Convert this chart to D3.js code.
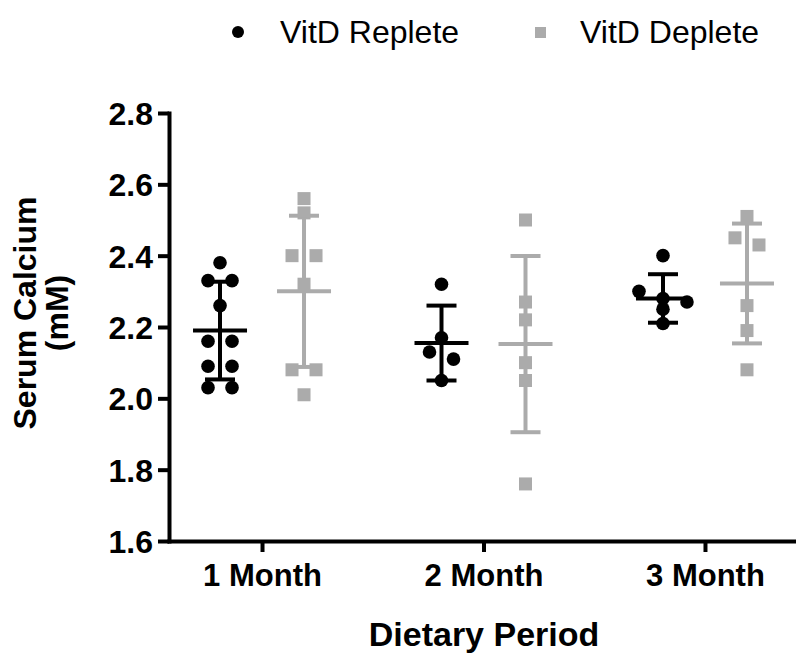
<!DOCTYPE html>
<html>
<head>
<meta charset="utf-8">
<script src="https://cdn.jsdelivr.net/npm/d3@7"></script>
<style>
  body { margin: 0; background: #fff; }
  text { font-family: "Liberation Sans", Arial, sans-serif; }
</style>
</head>
<body>
<svg id="chart" width="796" height="658"></svg>
<script>
// values
var periods = ["1 Month", "2 Month", "3 Month"];
var groups = ["VitD Replete", "VitD Deplete"];
var yTicks = [1.6, 1.8, 2.0, 2.2, 2.4, 2.6, 2.8];

var replete = [
    [2.38, 2.33, 2.33, 2.26, 2.16, 2.16, 2.09, 2.09, 2.03, 2.03],
    [2.32, 2.13, 2.17, 2.11, 2.05],
    [2.40, 2.30, 2.28, 2.27, 2.25, 2.21]
];
var deplete = [
    [2.56, 2.52, 2.40, 2.40, 2.32, 2.08, 2.08, 2.01],
    [2.50, 2.27, 2.22, 2.10, 2.05, 1.76],
    [2.51, 2.45, 2.43, 2.26, 2.19, 2.08]
];
var repleteMean = [2.19, 2.155, 2.28];
var repleteSD = [0.137, 0.105, 0.068];
var depleteMean = [2.30, 2.152, 2.322];
var depleteSD = [0.212, 0.247, 0.168];

var colors = {"VitD Replete": "#000", "VitD Deplete": "#ababab"};

var svg = d3.select("#chart");

var x = d3.scalePoint()
    .domain(periods)
    .range([169, 798])
    .padding(0.42);

var xInner = d3.scalePoint()
    .domain(groups)
    .range([-42, 42]);

var y = d3.scaleLinear()
    .domain([1.6, 2.8])
    .range([541, 113]);

// axes
var yAxis = svg.append("g")
    .attr("transform", "translate(169,0)")
    .call(d3.axisLeft(y).tickValues(yTicks).tickFormat(d3.format(".1f")).tickSize(11).tickSizeOuter(0).tickPadding(5));

var xAxis = svg.append("g")
    .attr("transform", "translate(0,541)")
    .call(d3.axisBottom(x).tickSize(11).tickSizeOuter(0).tickPadding(12));

[yAxis, xAxis].forEach(function(a) {
    a.select(".domain").attr("stroke", "#000").attr("stroke-width", 4).attr("stroke-linecap", "square");
    a.selectAll(".tick line").attr("stroke", "#000").attr("stroke-width", 4);
    a.selectAll(".tick text")
        .attr("fill", "#000")
        .style("font-weight", "bold")
        .style("font-family", "'Liberation Sans', Arial, sans-serif");
});
yAxis.selectAll(".tick text").style("font-size", "32px").attr("dy", "0.36em");
xAxis.selectAll(".tick text").style("font-size", "31px");

// axis titles
svg.append("text")
    .attr("x", 484).attr("y", 646)
    .attr("text-anchor", "middle")
    .style("font-size", "34px").style("font-weight", "bold")
    .text("Dietary Period");

var yTitle = svg.append("text")
    .attr("transform", "translate(36,313) rotate(-90)")
    .attr("text-anchor", "middle")
    .style("font-size", "32px").style("font-weight", "bold");
yTitle.append("tspan").attr("x", 0).attr("dy", 0).text("Serum Calcium");
yTitle.append("tspan").attr("x", 0).attr("dy", 32).text("(mM)");

// spread points that sit on the same row, like a scatter dot plot
function spread(values, rowH, step) {
    var idx = d3.range(values.length).sort(function(a, b) { return values[b] - values[a]; });
    var rows = [], cur = null;
    idx.forEach(function(i) {
        if (!cur || y(values[i]) - y(values[cur[0]]) > rowH) {
            cur = [i];
            rows.push(cur);
        } else {
            cur.push(i);
        }
    });
    var off = [];
    rows.forEach(function(r) {
        r.sort(function(a, b) { return a - b; });
        r.forEach(function(i, k) { off[i] = (k - (r.length - 1) / 2) * step; });
    });
    return off;
}

var series = [
    {name: "VitD Replete", values: replete, mean: repleteMean, sd: repleteSD},
    {name: "VitD Deplete", values: deplete, mean: depleteMean, sd: depleteSD}
];

series.forEach(function(s) {
    var col = colors[s.name];
    periods.forEach(function(p, pi) {
        var cx = x(p) + xInner(s.name);
        var vals = s.values[pi];
        var off = spread(vals, 13, 24);
        var g = svg.append("g");

        var pts = vals.map(function(v, i) { return {v: v, dx: off[i]}; });
        if (s.name === "VitD Replete") {
            g.selectAll("circle").data(pts).enter().append("circle")
                .attr("cx", function(d) { return cx + d.dx; })
                .attr("cy", function(d) { return y(d.v); })
                .attr("r", 6.8)
                .attr("fill", col);
        } else {
            g.selectAll("rect").data(pts).enter().append("rect")
                .attr("x", function(d) { return cx + d.dx - 6.5; })
                .attr("y", function(d) { return y(d.v) - 6.5; })
                .attr("width", 13).attr("height", 13)
                .attr("fill", col);
        }

        // mean +/- SD
        var m = s.mean[pi], sd = s.sd[pi];
        var eb = svg.append("g").attr("stroke", col).attr("stroke-width", 4);
        eb.append("line")
            .attr("x1", cx).attr("x2", cx)
            .attr("y1", y(m + sd)).attr("y2", y(m - sd));
        [m + sd, m - sd].forEach(function(v) {
            eb.append("line")
                .attr("x1", cx - 15).attr("x2", cx + 15)
                .attr("y1", y(v)).attr("y2", y(v));
        });
        eb.append("line")
            .attr("x1", cx - 27).attr("x2", cx + 27)
            .attr("y1", y(m)).attr("y2", y(m));
    });
});

// legend
var legend = svg.append("g");
legend.append("circle").attr("cx", 238).attr("cy", 32).attr("r", 6).attr("fill", colors["VitD Replete"]);
legend.append("text").attr("x", 280).attr("y", 43).style("font-size", "32px").text("VitD Replete");
legend.append("rect").attr("x", 535).attr("y", 27).attr("width", 11).attr("height", 11).attr("fill", colors["VitD Deplete"]);
legend.append("text").attr("x", 580).attr("y", 43).style("font-size", "32px").text("VitD Deplete");
</script>
</body>
</html>
